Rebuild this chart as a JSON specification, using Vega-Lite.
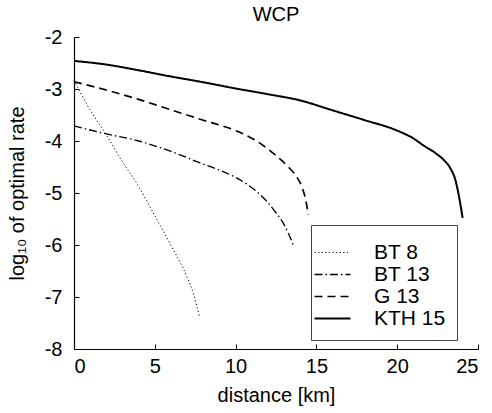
{
  "$schema": "https://vega.github.io/schema/vega-lite/v6.json",
  "autosize": "none",
  "width": 404,
  "height": 312,
  "padding": {"left": 74, "top": 37, "right": 14, "bottom": 64},
  "background": "white",
  "title": {"text": "WCP", "fontSize": 20, "font": "Liberation Sans", "fontWeight": "normal", "color": "black", "offset": 2, "anchor": "middle"},
  "config": {
    "view": {"stroke": null},
    "font": "Liberation Sans",
    "axis": {"grid": false, "domainColor": "black", "tickColor": "black", "labelColor": "black", "titleColor": "black", "labelFontSize": 20, "titleFontSize": 20, "titleFontWeight": "normal", "labelFont": "Liberation Sans", "titleFont": "Liberation Sans", "domainWidth": 1.2, "tickWidth": 1}
  },
  "data": {"values": [
    {"series": "BT 8", "d": 0, "v": -2.83},
    {"series": "BT 8", "d": 0.8, "v": -3.3},
    {"series": "BT 8", "d": 2.0, "v": -3.88},
    {"series": "BT 8", "d": 3.0, "v": -4.4},
    {"series": "BT 8", "d": 3.9, "v": -4.82},
    {"series": "BT 8", "d": 4.9, "v": -5.38},
    {"series": "BT 8", "d": 5.9, "v": -5.95},
    {"series": "BT 8", "d": 7.0, "v": -6.62},
    {"series": "BT 8", "d": 7.4, "v": -6.95},
    {"series": "BT 8", "d": 7.75, "v": -7.37},
    {"series": "BT 13", "d": 0, "v": -3.71},
    {"series": "BT 13", "d": 1.8, "v": -3.85},
    {"series": "BT 13", "d": 4, "v": -4.0},
    {"series": "BT 13", "d": 6, "v": -4.2},
    {"series": "BT 13", "d": 7.8, "v": -4.42},
    {"series": "BT 13", "d": 9, "v": -4.56},
    {"series": "BT 13", "d": 10, "v": -4.7},
    {"series": "BT 13", "d": 10.7, "v": -4.83},
    {"series": "BT 13", "d": 11.9, "v": -5.15},
    {"series": "BT 13", "d": 12.5, "v": -5.38},
    {"series": "BT 13", "d": 12.95, "v": -5.58},
    {"series": "BT 13", "d": 13.3, "v": -5.8},
    {"series": "BT 13", "d": 13.6, "v": -6.03},
    {"series": "G 13", "d": 0, "v": -2.86},
    {"series": "G 13", "d": 2, "v": -3.02},
    {"series": "G 13", "d": 4, "v": -3.2},
    {"series": "G 13", "d": 6, "v": -3.4},
    {"series": "G 13", "d": 8, "v": -3.6},
    {"series": "G 13", "d": 10, "v": -3.8},
    {"series": "G 13", "d": 11.2, "v": -3.98},
    {"series": "G 13", "d": 11.9, "v": -4.13},
    {"series": "G 13", "d": 12.5, "v": -4.28},
    {"series": "G 13", "d": 13.2, "v": -4.48},
    {"series": "G 13", "d": 13.8, "v": -4.7},
    {"series": "G 13", "d": 14.1, "v": -4.88},
    {"series": "G 13", "d": 14.35, "v": -5.15},
    {"series": "G 13", "d": 14.5, "v": -5.42},
    {"series": "KTH 15", "d": 0, "v": -2.46},
    {"series": "KTH 15", "d": 2, "v": -2.53},
    {"series": "KTH 15", "d": 4, "v": -2.64},
    {"series": "KTH 15", "d": 6, "v": -2.76},
    {"series": "KTH 15", "d": 8, "v": -2.87},
    {"series": "KTH 15", "d": 10, "v": -2.99},
    {"series": "KTH 15", "d": 12, "v": -3.1},
    {"series": "KTH 15", "d": 14, "v": -3.22},
    {"series": "KTH 15", "d": 16, "v": -3.41},
    {"series": "KTH 15", "d": 18, "v": -3.6},
    {"series": "KTH 15", "d": 20, "v": -3.8},
    {"series": "KTH 15", "d": 21, "v": -3.95},
    {"series": "KTH 15", "d": 21.6, "v": -4.08},
    {"series": "KTH 15", "d": 22.4, "v": -4.24},
    {"series": "KTH 15", "d": 22.9, "v": -4.37},
    {"series": "KTH 15", "d": 23.3, "v": -4.53},
    {"series": "KTH 15", "d": 23.6, "v": -4.75},
    {"series": "KTH 15", "d": 23.75, "v": -4.95},
    {"series": "KTH 15", "d": 23.9, "v": -5.2},
    {"series": "KTH 15", "d": 24.05, "v": -5.48}
  ]},
  "mark": {"type": "line", "color": "black", "interpolate": "monotone"},
  "encoding": {
    "x": {"field": "d", "type": "quantitative", "title": "distance [km]",
      "scale": {"domain": [0, 25], "nice": false, "zero": false},
      "axis": {"values": [0, 5, 10, 15, 20, 25], "tickSize": -5, "labelPadding": 12, "titlePadding": 9, "labelExpr": "'' + datum.value"}},
    "y": {"field": "v", "type": "quantitative", "title": "log₁₀ of optimal rate",
      "scale": {"domain": [-8, -2], "nice": false, "zero": false},
      "axis": {"values": [-8, -7, -6, -5, -4, -3, -2], "tickSize": -5, "labelPadding": 17, "titlePadding": 17, "labelExpr": "'' + datum.value"}},
    "strokeDash": {"field": "series", "type": "nominal",
      "scale": {"domain": ["BT 8", "BT 13", "G 13", "KTH 15"], "range": [[1.2, 2.4], [8, 3, 1.5, 3], [8, 5], [1, 0]]},
      "legend": {"orient": "none", "legendX": 237, "legendY": 188, "title": " ", "titleFontSize": 6, "titlePadding": 0, "strokeColor": "#444", "fillColor": "white", "padding": 11, "labelFontSize": 21, "labelColor": "black", "labelFont": "Liberation Sans", "symbolType": "M-3.6,0H3.6", "symbolSize": 100, "symbolStrokeColor": "black", "labelOffset": 31, "rowPadding": 0}},
    "strokeWidth": {"field": "series", "type": "nominal",
      "scale": {"domain": ["BT 8", "BT 13", "G 13", "KTH 15"], "range": [1, 2, 2, 2]},
      "legend": null}
  }
}
